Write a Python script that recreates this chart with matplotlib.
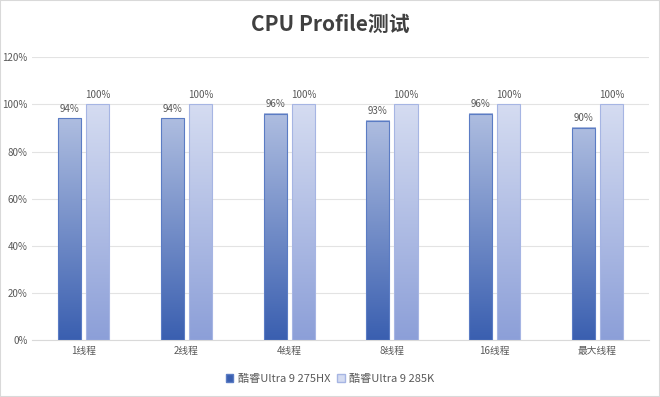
import matplotlib
matplotlib.use("Agg")
import matplotlib.pyplot as plt
import numpy as np
from matplotlib.colors import LinearSegmentedColormap
from matplotlib.patches import Rectangle

plt.rcParams['font.family'] = ['Noto Sans CJK SC', 'DejaVu Sans']

# data
categories = ["1线程", "2线程", "4线程", "8线程", "16线程", "最大线程"]
series_names = ["酷睿Ultra 9 275HX", "酷睿Ultra 9 285K"]
hx_values = [94, 94, 96, 93, 96, 90]
k_values = [100, 100, 100, 100, 100, 100]

# gradient (bottom colour, top colour) and edge colour for each series
grad_hx = ("#3a5fb0", "#aebde0")
grad_k = ("#8c9fd8", "#d5dcf1")
edge_hx = "#5b7cc4"
edge_k = "#a6b5e3"

fig = plt.figure(figsize=(6.6, 3.97), dpi=100)
ax = fig.add_axes([0.049, 0.143, 0.934, 0.713])

x = np.arange(len(categories))
w = 0.225
gap = 0.05

bars1 = ax.bar(x - (w + gap) / 2, hx_values, w, color="none",
               edgecolor=edge_hx, linewidth=0.8, zorder=3)
bars2 = ax.bar(x + (w + gap) / 2, k_values, w, color="none",
               edgecolor=edge_k, linewidth=0.8, zorder=3)


def fill_gradient(bars, colors):
    cmap = LinearSegmentedColormap.from_list("g", list(colors))
    grad = np.linspace(0, 1, 256).reshape(-1, 1)
    for b in bars:
        x0, y0 = b.get_x(), b.get_y()
        bw, bh = b.get_width(), b.get_height()
        ax.imshow(grad, cmap=cmap, origin="lower", aspect="auto",
                  extent=[x0, x0 + bw, y0, y0 + bh], zorder=2)


fill_gradient(bars1, grad_hx)
fill_gradient(bars2, grad_k)

for b, v in zip(bars1, hx_values):
    ax.text(b.get_x() + b.get_width() / 2, v + 2, f"{v}%", ha="center",
            va="bottom", fontsize=7, color="#595959")
for b, v in zip(bars2, k_values):
    ax.text(b.get_x() + b.get_width() / 2, v + 2, f"{v}%", ha="center",
            va="bottom", fontsize=7, color="#595959")

ax.set_xlim(-0.5, len(categories) - 0.5)
ax.set_ylim(0, 120)
ax.set_yticks(range(0, 121, 20))
ax.set_yticklabels([f"{t}%" for t in range(0, 121, 20)])
ax.set_xticks(x)
ax.set_xticklabels(categories)
ax.tick_params(axis="both", length=0, labelsize=7, colors="#595959")
ax.tick_params(axis="x", pad=4)
ax.grid(axis="y", color="#e3e3e3", linewidth=0.8, zorder=0)
for s in ["top", "right", "left"]:
    ax.spines[s].set_visible(False)
ax.spines["bottom"].set_color("#d9d9d9")

fig.suptitle("CPU Profile测试", y=0.965, fontsize=15, fontweight="bold",
             color="#404040")

handles = [Rectangle((0, 0), 1, 1, facecolor=grad_hx[0], edgecolor=edge_hx),
           Rectangle((0, 0), 1, 1, facecolor=grad_k[1], edgecolor=edge_k)]
fig.legend(handles, series_names, loc="center", bbox_to_anchor=(0.5, 0.045),
           ncol=2, frameon=False, fontsize=8, handlelength=0.7,
           handleheight=0.7, handletextpad=0.4, columnspacing=0.6,
           labelcolor="#595959")

fig.patches.append(Rectangle((0, 0), 1, 1, transform=fig.transFigure,
                             fill=False, edgecolor="#d9d9d9", linewidth=1.5))

fig.savefig("out.png", dpi=100)
